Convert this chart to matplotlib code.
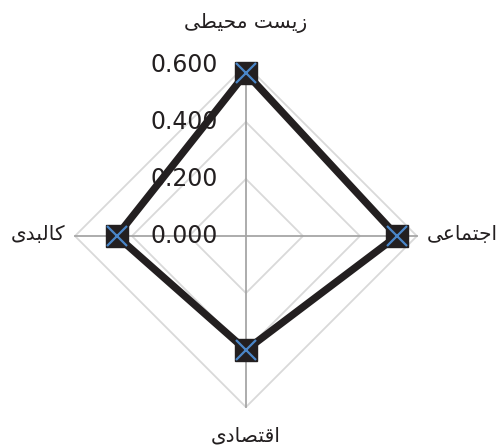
import numpy as np
import matplotlib
matplotlib.use("Agg")
from matplotlib import pyplot as plt

# data
categories = ["زیست محیطی", "اجتماعی", "اقتصادی", "کالبدی"]
values = [0.572, 0.530, 0.400, 0.453]
ticks = [0.0, 0.2, 0.4, 0.6]
tick_labels = ["0.000", "0.200", "0.400", "0.600"]

# very small Persian shaper (presentation forms), matplotlib has no text shaping
DUAL = {"ب": 0xFE8F, "ت": 0xFE95, "ج": 0xFE9D, "ح": 0xFEA1, "س": 0xFEB1,
        "ص": 0xFEB9, "ط": 0xFEC1, "ع": 0xFEC9, "ق": 0xFED5, "ل": 0xFEDD,
        "م": 0xFEE1, "ک": 0xFB8E, "ی": 0xFBFC}
RIGHT = {"ا": 0xFE8D, "د": 0xFEA9, "ز": 0xFEAF}


def shape(text):
    out = []
    n = len(text)
    for i, ch in enumerate(text):
        prev = text[i - 1] if i > 0 else " "
        nxt = text[i + 1] if i < n - 1 else " "
        join_prev = prev in DUAL
        if ch in DUAL:
            join_next = nxt in DUAL or nxt in RIGHT
            base = DUAL[ch]
            if join_prev and join_next:
                out.append(chr(base + 3))
            elif join_prev:
                out.append(chr(base + 1))
            elif join_next:
                out.append(chr(base + 2))
            else:
                out.append(chr(base))
        elif ch in RIGHT:
            out.append(chr(RIGHT[ch] + (1 if join_prev else 0)))
        else:
            out.append(ch)
    return "".join(out[::-1])


fig = plt.figure(figsize=(5.01, 4.47), dpi=100)
ax = fig.add_axes([0, 0, 1, 1])
ax.set_xlim(-0.863, 0.895)
ax.set_ylim(-0.740, 0.828)
ax.axis("off")

angles = np.pi / 2 - np.arange(len(categories)) * 2 * np.pi / len(categories)
rmax = ticks[-1]

# ring grid
for t in ticks[1:]:
    xs = np.append(t * np.cos(angles), t * np.cos(angles[0]))
    ys = np.append(t * np.sin(angles), t * np.sin(angles[0]))
    ax.plot(xs, ys, color="#d9d9d9", lw=1.3, zorder=1)

# spokes
for a in angles:
    ax.plot([0, rmax * np.cos(a)], [0, rmax * np.sin(a)], color="#a6a6a6", lw=1.3, zorder=2)

# tick labels
for t, lab in zip(ticks, tick_labels):
    ax.text(-0.1, t, lab, ha="right", va="center", fontsize=17, color="#231f20", zorder=3)

# series
xs = np.array(values) * np.cos(angles)
ys = np.array(values) * np.sin(angles)
ax.plot(np.append(xs, xs[0]), np.append(ys, ys[0]), color="#231f20", lw=5.3,
        solid_joinstyle="miter", zorder=4)
ax.plot(xs, ys, "s", ms=16, mfc="#231f20", mec="#231f20", zorder=5)
ax.plot(xs, ys, "x", ms=15, mew=1.6, color="#4a86c8", zorder=6)

# category labels
offs = [(0, 0.748, "center", "center"), (0.635, 0.005, "left", "center"),
        (0, -0.700, "center", "center"), (-0.635, 0.005, "right", "center")]
for cat, (x, y, ha, va) in zip(categories, offs):
    ax.text(x, y, shape(cat), ha=ha, va=va, fontsize=14.5, color="#231f20",
            family=["DejaVu Sans"])

fig.savefig("out.png", dpi=100)
